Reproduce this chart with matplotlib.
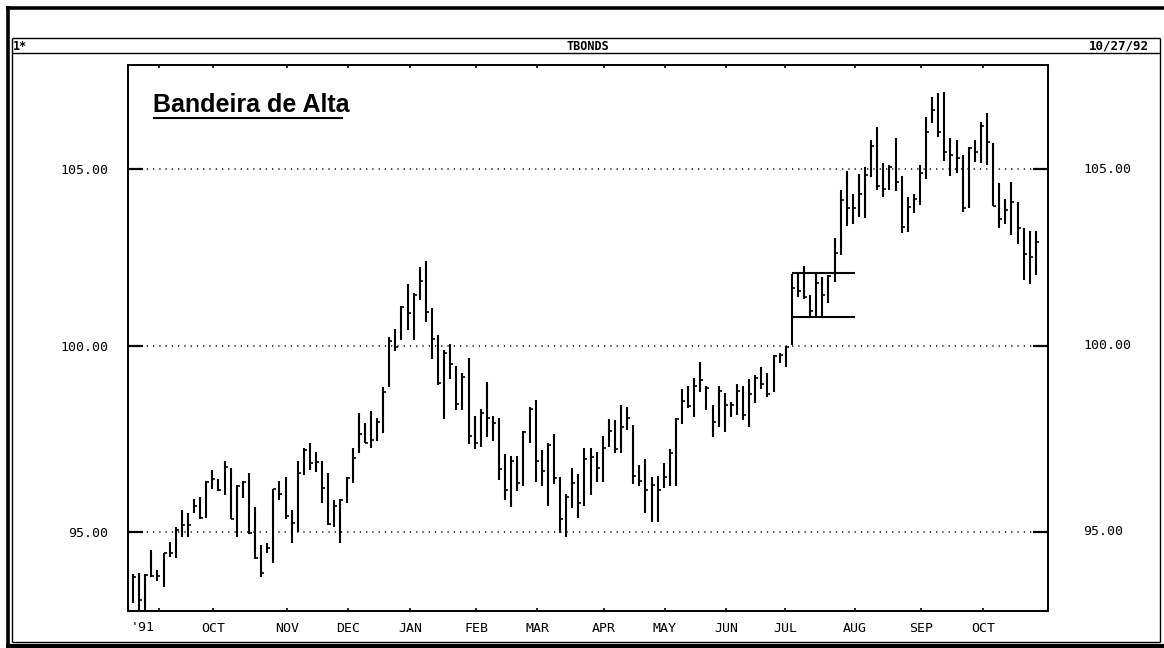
import matplotlib
matplotlib.use("Agg")
import matplotlib.pyplot as plt
from matplotlib.lines import Line2D
from matplotlib.ticker import FixedLocator, NullLocator, NullFormatter, FixedFormatter
import numpy as np

# ---------------- data ----------------
highs = [93.90, 93.92, 93.90, 94.52, 94.00, 94.44, 94.73, 95.13, 95.57, 95.49,
         95.87, 95.92, 96.34, 96.63, 96.39, 96.87, 96.68, 96.23, 96.34, 96.55,
         95.65, 94.65, 94.70, 96.13, 96.34, 96.45, 95.57, 96.87, 97.22, 97.36,
         97.12, 96.87, 96.55, 95.84, 95.87, 96.45, 97.22, 98.17, 97.90, 98.22,
         98.03, 98.87, 100.25, 100.47, 101.11, 101.73, 101.48, 102.20, 102.37, 101.06,
         100.31, 99.89, 100.06, 99.45, 99.26, 99.67, 98.09, 98.28, 99.01, 98.09,
         98.03, 97.06, 97.01, 97.01, 97.68, 98.33, 98.52, 97.17, 97.36, 97.60,
         96.45, 96.00, 96.68, 96.52, 97.22, 97.22, 97.12, 97.55, 98.00, 97.98,
         98.38, 98.33, 97.84, 96.76, 96.92, 96.45, 96.47, 96.82, 97.20, 98.03,
         98.82, 98.90, 99.12, 99.56, 98.90, 98.38, 98.90, 98.71, 98.47, 98.96,
         98.90, 99.09, 99.20, 99.42, 99.26, 99.75, 99.81, 100.00, 102.01, 102.01,
         102.23, 101.42, 102.01, 101.92, 101.98, 103.03, 104.40, 104.95, 104.28, 104.86,
         105.07, 105.85, 106.24, 105.18, 105.12, 105.91, 104.80, 104.20, 104.28, 105.12,
         106.53, 107.12, 107.23, 107.27, 105.91, 105.85, 105.41, 105.65, 105.85, 106.38,
         106.65, 105.76, 104.60, 104.14, 104.63, 104.05, 103.31, 103.23, 103.23]

lows = [93.15, 92.84, 92.84, 93.82, 93.72, 93.56, 94.34, 94.31, 94.86, 94.86,
        95.49, 95.34, 95.36, 96.13, 96.07, 95.97, 95.34, 94.86, 95.89, 94.94,
        94.28, 93.82, 94.44, 94.18, 95.84, 95.34, 94.70, 94.99, 96.50, 96.63,
        96.58, 95.76, 95.18, 95.13, 94.70, 95.76, 96.29, 97.09, 97.36, 97.22,
        97.41, 97.63, 98.87, 99.86, 100.17, 100.44, 100.17, 101.28, 100.66, 99.64,
        98.93, 98.00, 99.09, 98.25, 98.25, 97.33, 97.20, 97.25, 97.52, 97.41,
        96.37, 95.84, 95.65, 96.07, 96.21, 97.36, 96.31, 96.21, 95.68, 96.26,
        94.97, 94.86, 95.62, 95.36, 95.68, 95.97, 96.31, 96.31, 97.25, 97.09,
        97.09, 97.71, 96.26, 96.21, 95.49, 95.26, 95.26, 96.15, 96.21, 96.21,
        97.87, 98.30, 98.06, 98.74, 98.25, 97.52, 97.79, 97.66, 98.06, 98.11,
        97.98, 97.79, 98.44, 98.82, 98.60, 98.74, 99.53, 99.42, 100.03, 101.36,
        101.31, 100.80, 100.80, 100.80, 101.20, 101.78, 102.54, 103.37, 103.42, 103.63,
        103.60, 104.78, 104.40, 104.20, 104.40, 104.37, 103.17, 103.20, 103.74, 103.97,
        104.72, 106.35, 105.94, 105.24, 104.80, 104.89, 103.77, 103.88, 105.21, 105.18,
        105.12, 103.94, 103.31, 103.42, 103.11, 102.86, 101.84, 101.73, 101.98]

closes = [93.82, 93.23, 93.87, 93.84, 93.84, 94.44, 94.44, 95.05, 95.18, 95.18,
          95.68, 95.36, 96.31, 96.39, 96.10, 96.71, 95.34, 96.21, 96.31, 94.97,
          94.31, 93.92, 94.57, 96.13, 96.00, 95.41, 95.23, 96.55, 97.17, 96.82,
          96.84, 96.15, 95.20, 95.68, 95.84, 96.42, 96.95, 97.60, 97.36, 97.44,
          97.93, 98.74, 100.14, 99.97, 101.08, 100.92, 101.42, 101.81, 100.94, 100.19,
          98.99, 99.81, 99.50, 98.41, 99.15, 97.55, 97.36, 98.17, 98.03, 97.90,
          96.66, 96.10, 96.87, 96.29, 97.66, 98.28, 96.87, 96.60, 97.30, 96.42,
          95.34, 95.92, 96.29, 95.76, 96.92, 96.98, 96.68, 97.22, 97.68, 97.20,
          97.79, 98.03, 96.47, 96.34, 96.10, 96.23, 96.10, 96.45, 97.09, 98.00,
          98.49, 98.36, 98.90, 99.07, 98.85, 97.93, 98.77, 98.38, 98.38, 98.77,
          98.11, 98.69, 99.12, 98.96, 98.69, 99.72, 99.75, 99.97, 101.61, 101.53,
          101.36, 100.97, 101.76, 101.42, 101.95, 102.60, 104.11, 103.88, 103.88, 104.28,
          104.83, 105.68, 104.51, 104.43, 105.07, 104.63, 103.34, 103.91, 104.14, 104.89,
          106.09, 106.73, 106.09, 105.50, 105.41, 105.33, 103.88, 105.62, 105.50, 106.26,
          105.79, 103.94, 103.57, 103.83, 104.05, 103.31, 102.57, 102.49, 102.91]

# flag (bandeira) boundaries
flag_start = 108
flag_end = 118.4
flag_top = 102.03
flag_bottom = 100.80

price_ticks = [95.0, 100.0, 105.0]
price_labels = ["95.00", "100.00", "105.00"]

month_tick_pos = [4.26, 13.11, 25.25, 35.25, 45.41, 56.23, 66.23, 77.21,
                  87.21, 97.21, 106.89, 118.36, 129.18, 139.34]
month_labels = ["", "OCT", "NOV", "DEC", "JAN", "FEB", "MAR", "APR",
                "MAY", "JUN", "JUL", "AUG", "SEP", "OCT"]
year_label = "'91"
year_label_pos = 1.64

title = "Bandeira de Alta"
header_left = "1*"
header_mid = "TBONDS"
header_right = "10/27/92"

# ---------------- figure ----------------
W, H = 1164, 648
fig = plt.figure(figsize=(W / 100, H / 100), dpi=100)
fig.patch.set_facecolor("white")


def fx(x):
    return x / W


def fy(y):
    return 1 - y / H


def fline(xs, ys, lw, color="black"):
    fig.add_artist(Line2D([fx(v) for v in xs], [fy(v) for v in ys],
                          transform=fig.transFigure, color=color, lw=lw,
                          solid_capstyle="butt"))


# window frame
fline([6, 1164], [7.7, 7.7], 2.6)
fline([7.7, 7.7], [6, 648], 2.6)
fline([6, 1164], [646, 646], 3.0)
fline([11.7, 1160], [37.7, 37.7], 1.0)
fline([11.7, 1160], [53.3, 53.3], 1.0)
fline([11.7, 1160], [641.7, 641.7], 1.0)
fline([11.7, 11.7], [37.7, 641.7], 1.0)
fline([1160, 1160], [37.7, 641.7], 1.0)

mono = "DejaVu Sans Mono"
fig.text(fx(13), fy(46), header_left, family=mono, fontsize=8.5,
         fontweight="bold", ha="left", va="center")
fig.text(fx(588), fy(46), header_mid, family=mono, fontsize=8.5,
         fontweight="bold", ha="center", va="center")
fig.text(fx(1149), fy(46), header_right, family=mono, fontsize=9,
         fontweight="bold", ha="right", va="center")

# main axes
ax = fig.add_axes([fx(128), fy(611), fx(1048) - fx(128), fy(65) - fy(611)])
ax.set_yscale("log")
ax.set_ylim(92.94, 108.07)
ax.set_xlim(-0.82, 150.0)

idx = np.arange(len(highs))
ax.vlines(idx, lows, highs, color="black", lw=1.5)
ax.hlines(closes, idx, idx + 0.5, color="black", lw=1.2)

# flag
ax.hlines([flag_top, flag_bottom], flag_start, flag_end, color="black", lw=1.5)

# dotted grid
for p in price_ticks:
    ax.axhline(p, color="black", lw=1.1, linestyle=(0, (0.8, 3.3)), zorder=0)

for s in ax.spines.values():
    s.set_linewidth(1.4)

ax.yaxis.set_major_locator(FixedLocator(price_ticks))
ax.yaxis.set_major_formatter(FixedFormatter(price_labels))
ax.yaxis.set_minor_locator(NullLocator())
ax.yaxis.set_minor_formatter(NullFormatter())
ax.tick_params(axis="y", which="major", direction="in", length=10.5, width=1.6,
               left=True, right=True, pad=14, labelsize=9.5)
for lab in ax.get_yticklabels():
    lab.set_family(mono)

ax.xaxis.set_major_locator(FixedLocator(month_tick_pos))
ax.xaxis.set_major_formatter(FixedFormatter(month_labels))
ax.xaxis.set_minor_locator(NullLocator())
ax.tick_params(axis="x", which="major", direction="in", length=2.5, width=1.2,
               top=True, bottom=True, pad=8, labelsize=9.5)
for lab in ax.get_xticklabels():
    lab.set_family(mono)

ax.text(year_label_pos, -0.01, year_label, transform=ax.get_xaxis_transform(),
        family=mono, fontsize=9.5, ha="center", va="top")
# shift the year label to match tick label pad
ax.texts[-1].set_y(-16.5 / 546)
ax.texts[-1].set_va("center")

# right-hand price labels
for p, t in zip(price_ticks, price_labels):
    ax.text(1 + 35 / 920, p, t, transform=ax.get_yaxis_transform(),
            family=mono, fontsize=9.5, ha="left", va="center")

# title with underline
fig.text(fx(153), fy(112), title, family="Liberation Sans", fontweight="bold",
         fontsize=18, ha="left", va="baseline")
fline([153, 343], [117.5, 117.5], 1.5)

fig.savefig("out.png", dpi=100)
